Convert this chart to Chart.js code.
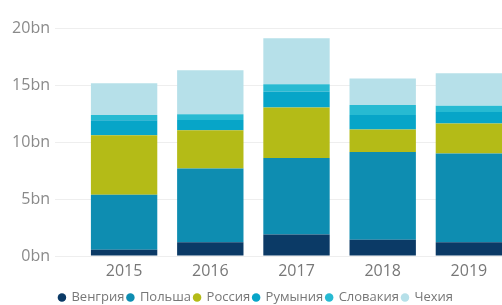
<!DOCTYPE html>
<html>
<head>
<meta charset="utf-8">
<script src="https://cdn.jsdelivr.net/npm/chart.js@4"></script>
<style>
    html, body { margin: 0; padding: 0; background: #fff; overflow: hidden; }
    #wrap { width: 512px; height: 314px; }
</style>
</head>
<body>
<div id="wrap"><canvas id="chart-gas"></canvas></div>
<script>
// Годы и значения по странам (млрд)
const anos = ['2015', '2016', '2017', '2018', '2019'];
const vengria = [0.55, 1.21, 1.89, 1.42, 1.21];
const polsha = [4.83, 6.46, 6.71, 7.71, 7.78];
const rossia = [5.22, 3.37, 4.43, 1.97, 2.64];
const rumynia = [1.30, 0.90, 1.40, 1.26, 1.00];
const slovakia = [0.46, 0.50, 0.63, 0.88, 0.55];
const chekhia = [2.79, 3.86, 4.04, 2.34, 2.84];
const yTicks = [0, 5, 10, 15, 20];

const series = [
    { label: 'Венгрия', data: vengria, color: '#0b3a66' },
    { label: 'Польша', data: polsha, color: '#0e8db1' },
    { label: 'Россия', data: rossia, color: '#b4bb17' },
    { label: 'Румыния', data: rumynia, color: '#07a5c8' },
    { label: 'Словакия', data: slovakia, color: '#27bad2' },
    { label: 'Чехия', data: chekhia, color: '#b6e0e9' }
];

document.addEventListener('DOMContentLoaded', function () {
    const ctx = document.getElementById('chart-gas');

    new Chart(ctx, {
        type: 'bar',
        data: {
            labels: anos,
            datasets: series.map(s => ({
                label: s.label,
                data: s.data,
                backgroundColor: s.color,
                borderWidth: 0,
                categoryPercentage: 1,
                barPercentage: 0.77
            }))
        },
        options: {
            responsive: true,
            maintainAspectRatio: false,
            animation: false,
            layout: {
                padding: { top: 28, right: 0, left: 0, bottom: 0 }
            },
            plugins: {
                tooltip: { enabled: false },
                legend: {
                    position: 'bottom',
                    labels: {
                        usePointStyle: true,
                        pointStyle: 'circle',
                        boxWidth: 6,
                        boxHeight: 6,
                        padding: 3,
                        color: '#777',
                        font: { family: 'Open Sans', size: 13 }
                    }
                }
            },
            scales: {
                x: {
                    stacked: true,
                    grid: { display: false },
                    border: { display: false },
                    ticks: {
                        color: '#777',
                        padding: -2,
                        font: { family: 'Open Sans', size: 16 }
                    },
                    afterFit: function (scale) { scale.height = 32; }
                },
                y: {
                    stacked: true,
                    min: yTicks[0],
                    max: yTicks[yTicks.length - 1],
                    afterBuildTicks: function (scale) {
                        scale.ticks = yTicks.map(v => ({ value: v }));
                    },
                    grid: {
                        color: '#eeeeee',
                        drawTicks: true,
                        tickLength: 26
                    },
                    border: { display: false },
                    ticks: {
                        color: '#8a8a8a',
                        padding: 5,
                        font: { family: 'Open Sans', size: 16 },
                        callback: v => v + 'bn'
                    },
                    afterFit: function (scale) { scale.width = 81; }
                }
            }
        }
    });
});
</script>
</body>
</html>
